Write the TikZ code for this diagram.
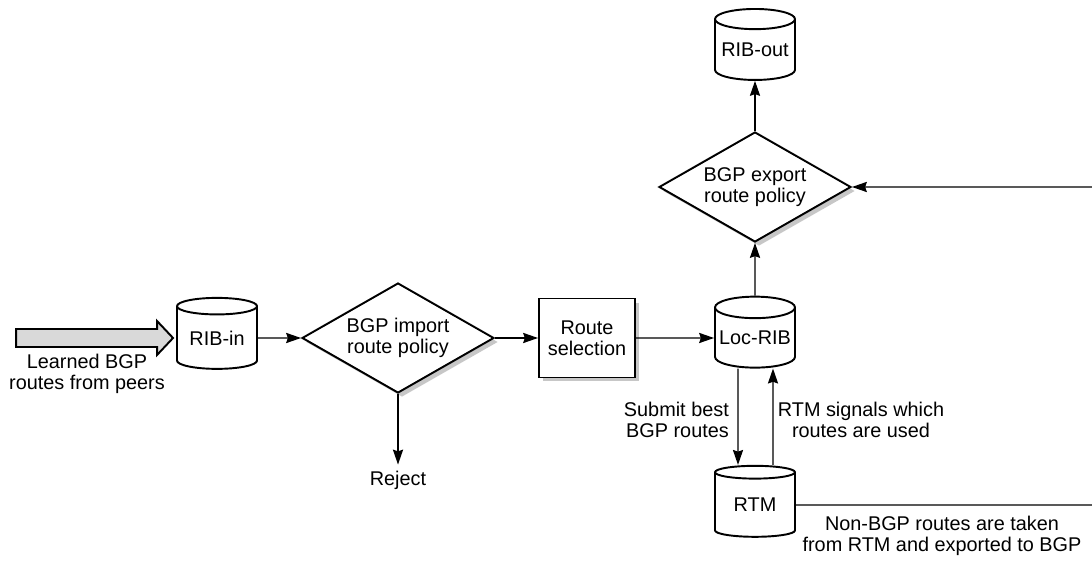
\documentclass[tikz,border=0pt]{standalone}
\usepackage{fontspec}
\setmainfont{Liberation Sans}
\usetikzlibrary{shapes.geometric,arrows.meta,shadows}

\begin{document}
\begin{tikzpicture}[x=0.02cm,y=0.02cm,
    every node/.style={font=\fontsize{11.3}{12}\selectfont, align=center},
    conn/.style={line width=0.75pt,-{Stealth[length=8.5pt,width=5.8pt,inset=1pt]}},
    db/.style={cylinder, shape border rotate=90, aspect=0.3, draw, line width=1.1pt,
        minimum width=1.6cm, minimum height=1.42cm, inner sep=0pt, fill=white},
    policy/.style={diamond, aspect=1.73, draw, line width=1.1pt, minimum width=3.84cm,
        minimum height=2.2cm, inner sep=0pt, fill=white,
        drop shadow={shadow xshift=0.08cm, shadow yshift=-0.08cm, fill=black!22, opacity=1}},
    selbox/.style={rectangle, draw, line width=1.1pt, minimum width=1.92cm,
        minimum height=1.58cm, fill=white,
        drop shadow={shadow xshift=0.08cm, shadow yshift=-0.08cm, fill=black!22, opacity=1}}
]
\useasboundingbox (0,0) rectangle (1092,561);

% main row
\node[db] (ribin) at (217,223) {RIB-in};
\node[policy] (import) at (398,223) {BGP import\\route policy};
\node[selbox] (select) at (587,223) {Route\\selection};
\node[db] (locrib) at (755,223) {Loc-RIB};

% export side
\node[policy] (export) at (755,374) {BGP export\\route policy};
\node[db] (ribout) at (755,511) {RIB-out};
\node[db] (rtm) at (755,56) {RTM};

% texts
\node (reject) at (398,81) {Reject};
\node (learned) at (87,187) {Learned BGP\\routes from peers};
\node[anchor=east, align=right] (submit) at (735,141) {Submit best\\BGP routes};
\node (signals) at (861,141) {RTM signals which\\routes are used};
\node (nonbgp) at (942,25) {Non-BGP routes are taken\\from RTM and exported to BGP};

% incoming routes
\draw[line width=1.1pt, fill=black!15] ([xshift=-0.06cm]ribin.west) -- ++(-16,17) -- ++(0,-8)
    -- ++(-141,0) -- ++(0,-18) -- ++(141,0) -- ++(0,-8) -- cycle;

\draw[conn] (ribin.east) -- (import.west);
\draw[conn] (import.east) -- (select.west);
\draw[conn] (select.east) -- (locrib.west);
\draw[conn] (import.south) -- (reject.north);
\draw[conn] (locrib.north) -- (export.south);
\draw[conn] (export.north) -- (ribout.south);
\draw[conn] ([xshift=-0.34cm]locrib.south) -- ([xshift=-0.34cm]rtm.north);
\draw[conn] ([xshift=0.36cm]rtm.north) -- ([xshift=0.36cm]locrib.south);

% loop back from RTM (runs off the right edge)
\begin{scope}
\clip (0,0) rectangle (1092,561);
\coordinate (farlow) at (1100,56);
\coordinate (farhigh) at (1100,374);
\draw[conn] (rtm.east) -- (farlow) -- (farhigh) -- (export.east);
\end{scope}
\end{tikzpicture}
\end{document}
